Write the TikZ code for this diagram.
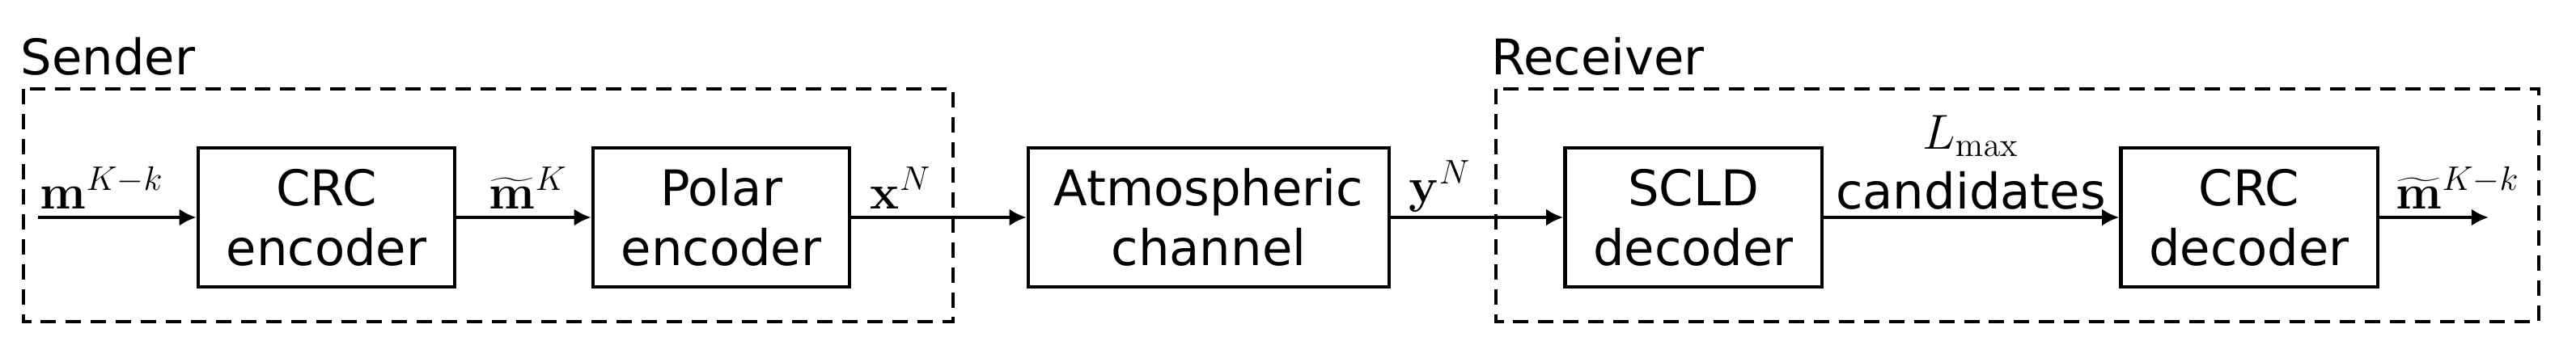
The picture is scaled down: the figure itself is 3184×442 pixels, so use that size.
\documentclass[tikz,border=0pt]{standalone}
\usepackage[no-math]{fontspec}
\setmainfont{DejaVu Sans}
\usetikzlibrary{arrows.meta}

\tikzset{
  block/.style={draw, line width=1.2pt, minimum width=3.17cm, minimum height=1.72cm, align=center, inner sep=0pt},
  link/.style={line width=1.2pt, -{Latex[length=6pt,width=6pt]}},
  group/.style={draw, line width=0.9pt, dash pattern=on 5.4pt off 3.4pt},
  tag/.style={anchor=base west, inner sep=0pt},
}

\begin{document}
\begin{tikzpicture}[x=0.01cm, y=-0.01cm, font=\fontsize{17.3}{21}\selectfont]
\useasboundingbox (0,0) rectangle (3184,442);

% sender and receiver frames
\draw [group] (29,110) rectangle (1178,398);
\draw [group] (1849,110) rectangle (3138,398);
\node [tag] (sender) at (25,92) {Sender};
\node [tag] (receiver) at (1843,92) {Receiver};

% blocks
\node [block] (crcenc) at (403.5,269) {CRC\\encoder};
\node [block] (polenc) at (891.5,269) {Polar\\encoder};
\node [block, minimum width=4.46cm] (chan) at (1494,269) {Atmospheric\\channel};
\node [block] (scld) at (2093,269) {SCLD\\decoder};
\node [block] (crcdec) at (2780,269) {CRC\\decoder};

\coordinate (in) at (47,269);
\coordinate (out) at (3076,269);

% connectors
\draw [link] (in) -- (crcenc);
\draw [link] (crcenc) -- (polenc);
\draw [link] (polenc) -- (chan);
\draw [link] (chan) -- (scld);
\draw [link] (scld) -- (crcdec);
\draw [link] (crcdec) -- (out);

% signal labels
\node [tag] (msg) at (49,258) {$\mathbf{m}^{K-k}$};
\node [tag] (msgcrc) at (604,258) {$\widetilde{\mathbf{m}}^{K}$};
\node [tag] (cw) at (1075,258) {$\mathbf{x}^{N}$};
\node [tag] (rx) at (1741,250) {$\mathbf{y}^{N}$};
\node [anchor=base, inner sep=0pt, align=center] (cand) at (2436,258) {$L_{\max}$\\candidates};
\node [tag] (msghat) at (2961,258) {$\widetilde{\mathbf{m}}^{K-k}$};
\end{tikzpicture}
\end{document}
